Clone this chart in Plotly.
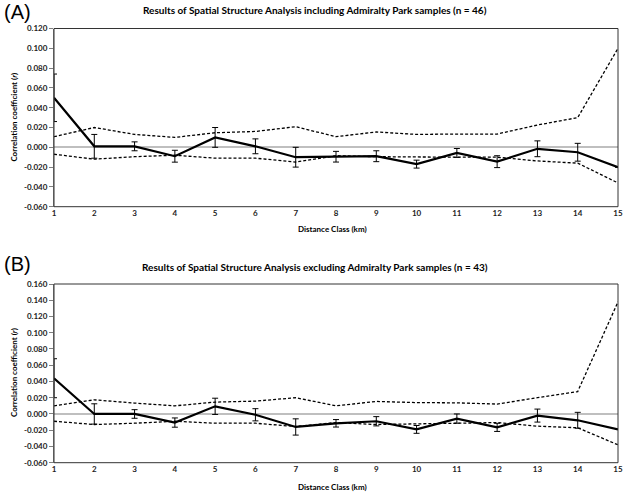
import plotly.graph_objects as go

distance_class = list(range(1, 16))
x_tick_labels = [str(v) for v in distance_class]

# Panel A: including Admiralty Park (n = 46)
r_a = [0.050, 0.001, 0.001, -0.009, 0.010, 0.001, -0.010, -0.0095, -0.009, -0.017, -0.0057, -0.0145, -0.0015, -0.005, -0.020]
err_a = [0.024, 0.012, 0.0045, 0.006, 0.010, 0.0075, 0.010, 0.0054, 0.0055, 0.004, 0.0045, 0.006, 0.008, 0.009, None]
upper_a = [0.0107, 0.020, 0.013, 0.010, 0.0147, 0.016, 0.0208, 0.0107, 0.0155, 0.013, 0.0134, 0.0134, 0.0225, 0.030, 0.100]
lower_a = [-0.007, -0.012, -0.0095, -0.008, -0.011, -0.011, -0.0149, -0.0085, -0.0095, -0.010, -0.010, -0.010, -0.0138, -0.016, -0.036]
yticks_a = [-0.06, -0.04, -0.02, 0.0, 0.02, 0.04, 0.06, 0.08, 0.10, 0.12]
ytick_labels_a = ["-0.060", "-0.040", "-0.020", "0.000", "0.020", "0.040", "0.060", "0.080", "0.100", "0.120"]

# Panel B: excluding Admiralty Park (n = 43)
r_b = [0.044, 0.000, 0.000, -0.0106, 0.0094, -0.001, -0.016, -0.0115, -0.009, -0.019, -0.0057, -0.0165, -0.002, -0.0078, -0.019]
err_b = [0.024, 0.0125, 0.0053, 0.0057, 0.010, 0.0075, 0.010, 0.0046, 0.0057, 0.0048, 0.0057, 0.005, 0.008, 0.0098, None]
upper_b = [0.010, 0.0174, 0.0134, 0.010, 0.0146, 0.0158, 0.020, 0.010, 0.0154, 0.014, 0.0137, 0.0122, 0.020, 0.0276, 0.138]
lower_b = [-0.009, -0.013, -0.0114, -0.009, -0.0114, -0.0114, -0.0155, -0.0106, -0.013, -0.012, -0.0114, -0.0106, -0.015, -0.017, -0.038]
yticks_b = [-0.06, -0.04, -0.02, 0.0, 0.02, 0.04, 0.06, 0.08, 0.10, 0.12, 0.14, 0.16]
ytick_labels_b = ["-0.060", "-0.040", "-0.020", "0.000", "0.020", "0.040", "0.060", "0.080", "0.100", "0.120", "0.140", "0.160"]

title_a = "Results of Spatial Structure Analysis including Admiralty Park samples (n = 46)"
title_b = "Results of Spatial Structure Analysis excluding Admiralty Park samples (n = 43)"
x_title = "Distance Class (km)"
y_title = "Correlation coefficient (<i>r</i>)"

W, H = 625, 494
FONT = "Lato"

def py(px):
    return 1 - px / H

fig = go.Figure()

for suffix, r, err, up, lo in [("", r_a, err_a, upper_a, lower_a), ("2", r_b, err_b, upper_b, lower_b)]:
    xa, ya = "x" + suffix, "y" + suffix
    fig.add_trace(go.Scatter(x=distance_class, y=up, mode="lines", xaxis=xa, yaxis=ya,
                             line=dict(color="black", width=1.3, dash="3px,2px"), showlegend=False))
    fig.add_trace(go.Scatter(x=distance_class, y=lo, mode="lines", xaxis=xa, yaxis=ya,
                             line=dict(color="black", width=1.3, dash="3px,2px"), showlegend=False))
    fig.add_trace(go.Scatter(x=distance_class, y=r, mode="lines", xaxis=xa, yaxis=ya,
                             line=dict(color="black", width=2.2), showlegend=False,
                             error_y=dict(type="data", array=err, visible=True, color="black",
                                          thickness=1, width=3)))

left, right = 54 / W, 618 / W
dom_a = [py(206.7), py(28.5)]
dom_b = [py(462.7), py(284)]

tickfont = dict(family=FONT, size=8, color="#222", weight="bold")

def xaxis(anchor):
    return dict(domain=[left, right], range=[1, 15], anchor=anchor, tickmode="array",
                tickvals=distance_class, ticktext=x_tick_labels, tickfont=tickfont,
                showgrid=False, zeroline=False, showline=False, ticks="", ticklen=0,
                automargin=False, ticklabeloverflow="allow")

def yaxis(anchor, dom, rng, tv, tt):
    return dict(domain=dom, range=rng, anchor=anchor, tickmode="array", tickvals=tv, ticktext=tt,
                tickfont=tickfont, showgrid=False, zeroline=True, zerolinecolor="#bfbfbf",
                zerolinewidth=1.5, showline=True, linecolor="#7f7f7f", linewidth=1,
                ticks="outside", ticklen=4, tickcolor="#7f7f7f", automargin=False,
                ticklabeloverflow="allow")

fig.update_layout(
    width=W, height=H, margin=dict(l=0, r=0, t=0, b=0, autoexpand=False),
    paper_bgcolor="white", plot_bgcolor="white",
    xaxis=xaxis("y"), yaxis=yaxis("x", dom_a, [-0.06, 0.12], yticks_a, ytick_labels_a),
    xaxis2=xaxis("y2"), yaxis2=yaxis("x2", dom_b, [-0.06, 0.16], yticks_b, ytick_labels_b),
)

for dom in (dom_a, dom_b):
    fig.add_shape(type="rect", xref="paper", yref="paper", x0=left, x1=right, y0=dom[0], y1=dom[1],
                  line=dict(color="#333", width=1), layer="above")

ann = []
ann.append(dict(text="(A)", x=2 / W, y=py(12), xanchor="left", yanchor="middle", font=dict(family="Liberation Sans", size=20, color="black")))
ann.append(dict(text="(B)", x=2 / W, y=py(264), xanchor="left", yanchor="middle", font=dict(family="Liberation Sans", size=20, color="black")))
ann.append(dict(text=title_a, x=314.5 / W, y=py(10), xanchor="center", yanchor="middle", font=dict(family=FONT, size=10, color="black", weight="bold")))
ann.append(dict(text=title_b, x=315 / W, y=py(267), xanchor="center", yanchor="middle", font=dict(family=FONT, size=10, color="black", weight="bold")))
ann.append(dict(text=x_title, x=332 / W, y=py(229), xanchor="center", yanchor="middle", font=dict(family=FONT, size=8, color="black", weight="bold")))
ann.append(dict(text=x_title, x=332 / W, y=py(487), xanchor="center", yanchor="middle", font=dict(family=FONT, size=8, color="black", weight="bold")))
ann.append(dict(text=y_title, x=14 / W, y=py(117.6), textangle=-90, xanchor="center", yanchor="middle", font=dict(family=FONT, size=8, color="black", weight="bold")))
ann.append(dict(text=y_title, x=14 / W, y=py(373), textangle=-90, xanchor="center", yanchor="middle", font=dict(family=FONT, size=8, color="black", weight="bold")))
for a in ann:
    a.update(xref="paper", yref="paper", showarrow=False)
fig.update_layout(annotations=ann)

fig.write_html("out.html", config={"displayModeBar": False},
               post_script="document.body.style.margin='0';document.body.style.padding='0';")
